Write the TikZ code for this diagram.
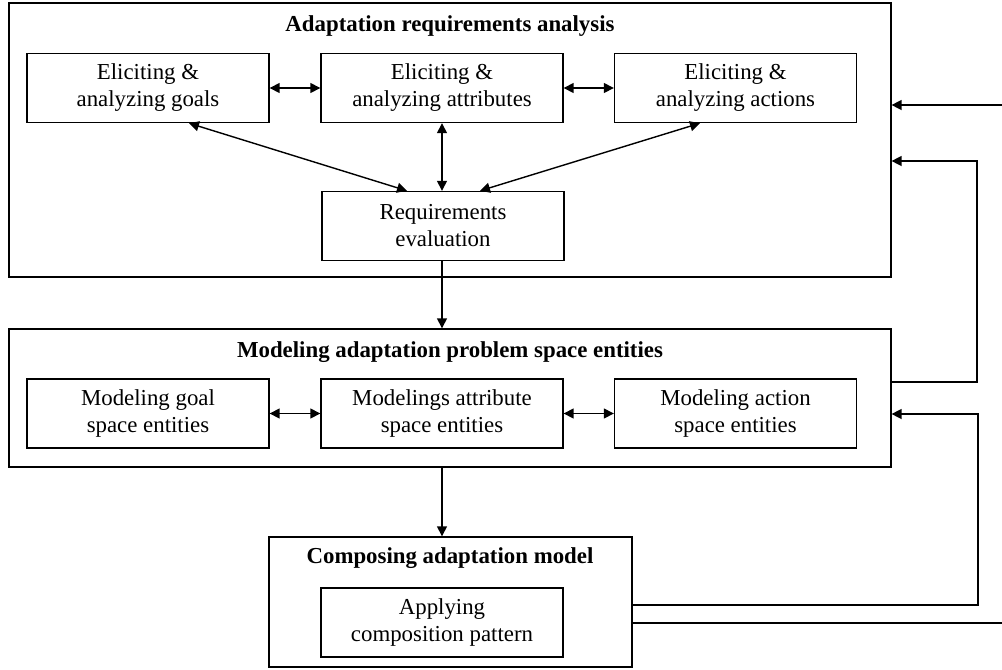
\documentclass[tikz,border=0pt]{standalone}
\usepackage{fontspec}
\setmainfont{Liberation Serif}
\usepackage{tikz}
\usetikzlibrary{positioning, arrows.meta, calc}

\begin{document}
\begin{tikzpicture}[
    x=0.02cm, y=-0.02cm,
    outer/.style={rectangle, draw=black, line width=0.8pt, inner sep=0pt},
    block/.style={rectangle, draw=black, line width=0.8pt, minimum width=4.84cm,
                  minimum height=1.38cm, align=center, inner sep=0pt,
                  font=\fontsize{13}{15.4}\selectfont},
    title/.style={font=\fontsize{13}{15.4}\selectfont\bfseries},
    arrow/.style={-{Triangle[length=0.2cm, width=0.2cm]}, line width=0.8pt},
    biarrow/.style={{Triangle[length=0.2cm, width=0.2cm]}-{Triangle[length=0.2cm, width=0.2cm]}, line width=0.8pt}
]
    \useasboundingbox (0,0) rectangle (1002,670);

    % Adaptation requirements analysis
    \node[outer, minimum width=17.64cm, minimum height=5.48cm] (analysis) at (450,140) {};
    \node[title] (analysisT) at (450,26) {Adaptation requirements analysis};
    \node[block] (goals) at (148,88) {Eliciting \&\\analyzing goals};
    \node[block] (attrs) at (442,88) {Eliciting \&\\analyzing attributes};
    \node[block] (actions) at (735.5,88) {Eliciting \&\\analyzing actions};
    \node[block] (eval) at (443,226) {Requirements\\evaluation};

    % Modeling adaptation problem space entities
    \node[outer, minimum width=17.64cm, minimum height=2.76cm] (modeling) at (450,398) {};
    \node[title] (modelingT) at (450,352) {Modeling adaptation problem space entities};
    \node[block] (goalM) at (148,413.5) {Modeling goal\\space entities};
    \node[block] (attrM) at (442,413.5) {Modelings attribute\\space entities};
    \node[block] (actionM) at (735.5,413.5) {Modeling action\\space entities};

    % Composing adaptation model
    \node[outer, minimum width=7.26cm, minimum height=2.6cm] (composing) at (450.5,602) {};
    \node[title] (composingT) at (450,558) {Composing adaptation model};
    \node[block] (pattern) at (442,622.5) {Applying\\composition pattern};

    % Arrows inside the boxes
    \draw[biarrow] (goals) -- (attrs);
    \draw[biarrow] (attrs) -- (actions);
    \draw[biarrow] ($(goals.south)+(41,0)$) -- ($(eval.north)+(-36,0)$);
    \draw[biarrow] (attrs.south) -- (attrs.south |- eval.north);
    \draw[biarrow] ($(actions.south)+(-35.5,0)$) -- ($(eval.north)+(37,0)$);
    \draw[biarrow] (goalM) -- (attrM);
    \draw[biarrow] (attrM) -- (actionM);

    % Arrows between the boxes
    \draw[arrow] (eval.south -| attrs.south) -- (attrs.south |- modeling.north);
    \draw[arrow] (pattern.north |- modeling.south) -- (pattern.north |- composing.north);

    % Feedback lines
    \coordinate (inTop) at (1002,105);
    \coordinate (loopA) at (977,382);
    \coordinate (loopAtop) at (977,161);
    \coordinate (loopB) at (978,605);
    \coordinate (loopBtop) at (978,414);
    \coordinate (outLow) at (1002,623);
    \draw[arrow] (inTop) -- (inTop -| analysis.east);
    \draw[arrow] (modeling.east |- loopA) -- (loopA) -- (loopAtop) -- (loopAtop -| analysis.east);
    \draw[arrow] (composing.east |- loopB) -- (loopB) -- (loopBtop) -- (loopBtop -| modeling.east);
    \draw[line width=0.8pt] (composing.east |- outLow) -- (outLow);

\end{tikzpicture}
\end{document}
